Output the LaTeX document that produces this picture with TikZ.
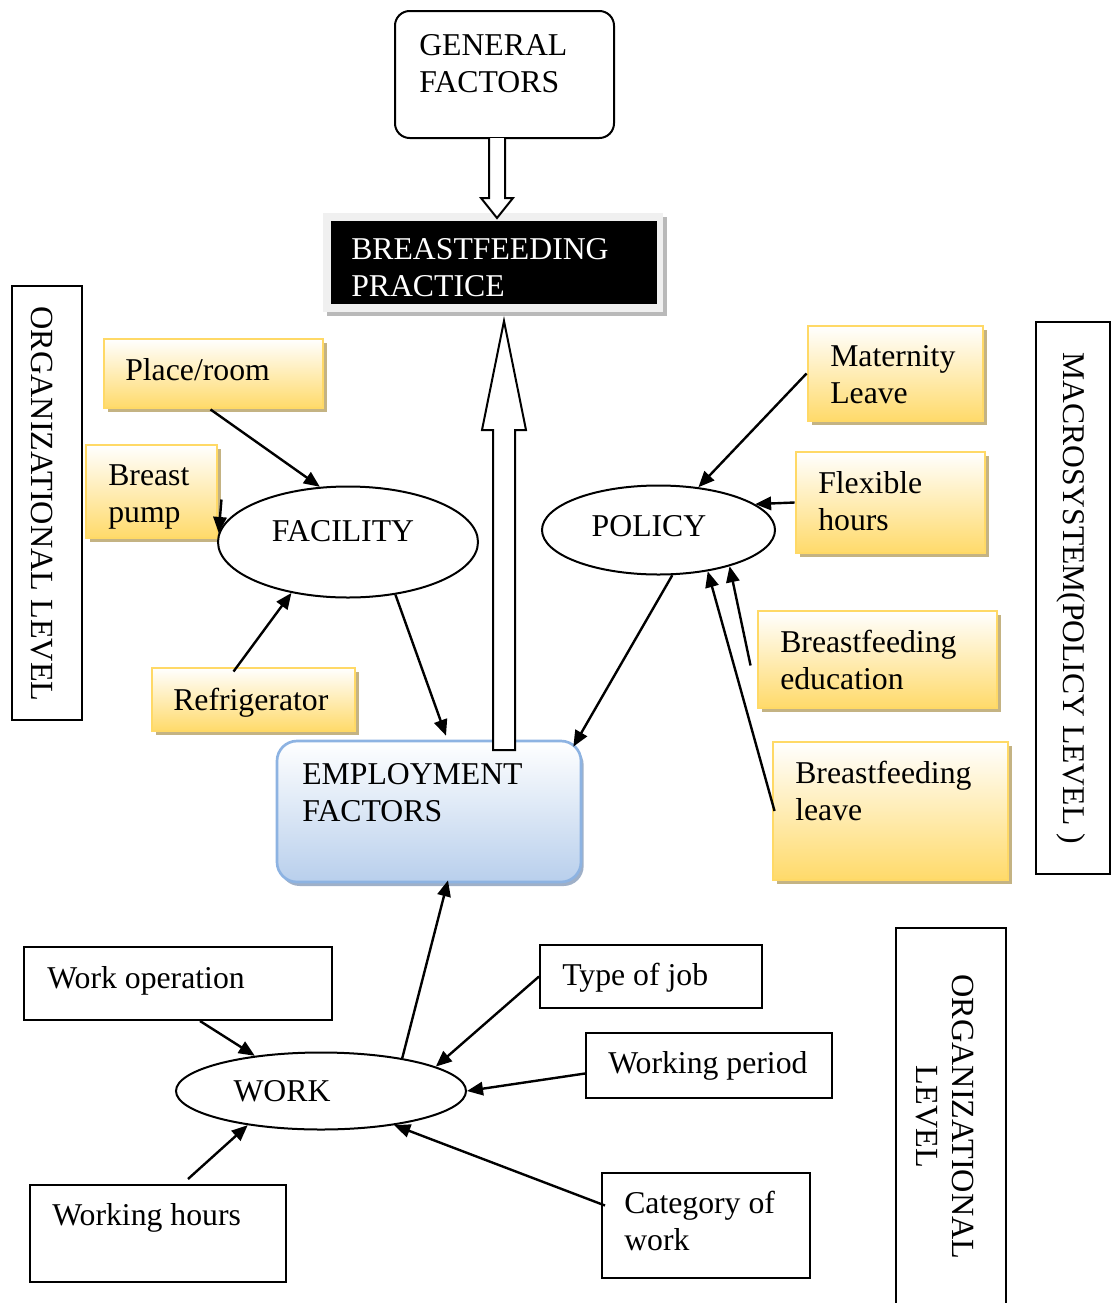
\documentclass[tikz,border=0pt]{standalone}
\usepackage{fontspec}
\setmainfont{Liberation Serif}
\usetikzlibrary{arrows.meta,shapes.geometric,shadows,calc,fit}
\definecolor{goldb}{HTML}{FFD966}
\definecolor{goldf}{HTML}{FFDA6A}
\definecolor{ytan}{HTML}{C4B383}
\definecolor{bluef}{HTML}{B8CFEC}
\definecolor{blueb}{HTML}{8DB3E2}
\definecolor{bluesh}{HTML}{9FB0C8}
\newcommand\tabtxt[1]{\begin{tabular}[t]{@{}l@{}}#1\end{tabular}}
\tikzset{
  txt/.style={inner sep=0pt, font=\fontsize{23.8}{27.75}\selectfont},
  lbl/.style={inner sep=0pt, font=\fontsize{24.2}{27}\selectfont, rotate=-90, align=center},
  wbox/.style={draw=black, line width=1.5pt, inner sep=0pt, fill=white},
  ybox/.style={draw=goldb, line width=2.2pt, inner sep=0pt, top color=white, bottom color=goldf,
    drop shadow={shadow xshift=3pt, shadow yshift=-3pt, fill=ytan, opacity=1}},
  ell/.style={ellipse, draw=black, line width=1.5pt, inner sep=0pt, fill=white},
  arr/.style={line width=1.8pt, -{Triangle[length=12pt,width=10pt]}},
  hollow/.style={draw=black, line width=1.5pt, fill=white},
}
\begin{document}
\begin{tikzpicture}[x=0.75pt,y=-0.75pt]
\useasboundingbox (0,0) rectangle (1112,1303);

% side labels
\node[wbox, fit={(12,286)(82,720)}] (orgL) {};
\node[lbl] (orgLT) at (42,504) {ORGANIZATIONAL LEVEL};
\node[wbox, fit={(1036,322)(1110,874)}] (macro) {};
\node[lbl, font=\fontsize{23.7}{27}\selectfont] (macroT) at (1071,598) {MACROSYSTEM(POLICY LEVEL )};
\node[wbox, fit={(896,928)(1006,1330)}] (orgR) {};
\node[lbl] (orgRT) at (945,1117) {ORGANIZATIONAL\\LEVEL};

% top
\node[draw=black, line width=1.5pt, rounded corners=11pt, inner sep=0pt, fit={(395,11)(614,138)}] (gen) {};
\node[txt, anchor=base west] (genT) at (419,55) {\tabtxt{GENERAL\\FACTORS}};
\fill[gray!55] (327,217) rectangle (667,316);
\node[fill=gray!12, inner sep=0pt, fit={(323,213)(663,312)}] (bfpF) {};
\node[fill=black, inner sep=0pt, fit={(331,221)(657,304)}] (bfp) {};
\node[txt, anchor=base west, text=white] (bfpT) at (351,259) {\tabtxt{BREASTFEEDING\\PRACTICE}};

% facility group
\node[ybox, fit={(104,339)(323,408)}] (place) {};
\node[txt, anchor=base west] (placeT) at (125,380) {Place/room};
\node[ybox, fit={(86,445)(217,538)}] (bp) {};
\node[txt, anchor=base west] (bpT) at (108,485) {\tabtxt{Breast\\pump}};
\node[ybox, fit={(152,668)(355,731)}] (refr) {};
\node[txt, anchor=base west] (refrT) at (173,710) {Refrigerator};
\node[ell, minimum width={260*0.75pt}, minimum height={111*0.75pt}] (fac) at (348,542) {};
\node[txt] (facT) at (343,531) {FACILITY};

% policy group
\node[ybox, fit={(808,326)(983,421)}] (mat) {};
\node[txt, anchor=base west] (matT) at (830,366) {\tabtxt{Maternity\\Leave}};
\node[ybox, fit={(796,452)(985,553)}] (flex) {};
\node[txt, anchor=base west] (flexT) at (818,493) {\tabtxt{Flexible\\hours}};
\node[ybox, fit={(758,611)(997,708)}] (bfe) {};
\node[txt, anchor=base west] (bfeT) at (780,652) {\tabtxt{Breastfeeding\\education}};
\node[ybox, fit={(773,742)(1008,880)}] (bfl) {};
\node[txt, anchor=base west] (bflT) at (795,783) {\tabtxt{Breastfeeding\\leave}};
\node[ell, minimum width={233*0.75pt}, minimum height={89*0.75pt}] (pol) at (658.5,530) {};
\node[txt] (polT) at (649,526) {POLICY};

% employment
\node[draw=blueb, line width=2pt, rounded corners=15pt, inner sep=0pt, top color=white, bottom color=bluef,
  drop shadow={shadow xshift=2pt, shadow yshift=-3pt, fill=bluesh, opacity=1},
  fit={(277,741)(581,882)}] (emp) {};
\node[txt, anchor=base west] (empT) at (302,784) {\tabtxt{EMPLOYMENT\\FACTORS}};

% work group
\node[wbox, fit={(24,947)(332,1020)}] (wop) {};
\node[txt, anchor=base west] (wopT) at (47,988) {Work operation};
\node[wbox, fit={(540,945)(762,1008)}] (toj) {};
\node[txt, anchor=base west] (tojT) at (562,985) {Type of job};
\node[wbox, fit={(586,1033)(832,1098)}] (wp) {};
\node[txt, anchor=base west] (wpT) at (608,1073) {Working period};
\node[wbox, fit={(30,1185)(286,1282)}] (wh) {};
\node[txt, anchor=base west] (whT) at (52,1225) {Working hours};
\node[wbox, fit={(602,1173)(810,1278)}] (cat) {};
\node[txt, anchor=base west] (catT) at (624,1213) {\tabtxt{Category of\\work}};
\node[ell, minimum width={290*0.75pt}, minimum height={77*0.75pt}] (work) at (321,1091) {};
\node[txt] (workT) at (282,1091) {WORK};

% hollow arrows
\draw[hollow] (489,138) -- (489,198) -- (481,198) -- (497,218) -- (513,198) -- (505,198) -- (505,138);
\draw[hollow] (493,750) -- (493,430) -- (482,430) -- (504,321) -- (526,430) -- (515,430) -- (515,750) -- cycle;

% connectors
\coordinate (bpa) at ($(bp.east)+(3,8)$);
\draw[arr] ($(place.south)+(-3,0)$) -- (fac.117);
\draw[arr] (bpa) -- (fac.176);
\draw[arr] ($(refr.north)+(-20,5)$) -- (fac.222);
\draw[arr] (fac.312) -- ($(emp.north)+(17,-4)$);
\draw[arr] (mat.west) -- (pol.47);
\draw[arr] (flex.west) -- (pol.15);
\draw[arr] ($(bfe.west)+(-6,6)$) -- (pol.333);
\draw[arr] ($(bfl.west)+(3,0)$) -- (pol.320);
\draw[arr] (pol.287) -- ($(emp.north east)+(-9,7)$);
\draw[arr] (work.22) -- ($(emp.south)+(19,-3)$);
\draw[arr] ($(wop.south)+(22,0)$) -- (work.152);
\draw[arr] (toj.west) -- (work.12);
\draw[arr] ($(wp.west)+(0,8)$) -- (work.east);
\draw[arr] ($(wh.north)+(30,-5)$) -- (work.205);
\draw[arr] ($(cat.west)+(4,-20)$) -- (work.335);
\end{tikzpicture}
\end{document}
